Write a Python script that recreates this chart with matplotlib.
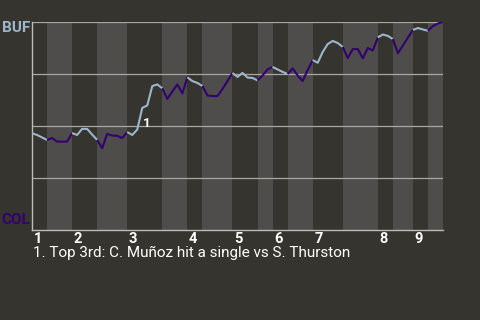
import numpy as np
import matplotlib.pyplot as plt

# win probability for BUF after each plate appearance (0 = COL wins, 1 = BUF wins)
wp = [0.465, 0.457, 0.445, 0.433, 0.442, 0.425, 0.425, 0.425, 0.466, 0.457,
      0.486, 0.486, 0.459, 0.433, 0.393, 0.462, 0.454, 0.453, 0.442, 0.471,
      0.457, 0.483, 0.587, 0.599, 0.692, 0.700, 0.681, 0.630, 0.666, 0.700,
      0.657, 0.734, 0.716, 0.707, 0.692, 0.647, 0.644, 0.644, 0.678, 0.716,
      0.755, 0.736, 0.755, 0.733, 0.731, 0.719, 0.743, 0.772, 0.784, 0.772,
      0.760, 0.750, 0.777, 0.743, 0.716, 0.769, 0.817, 0.804, 0.856, 0.894,
      0.909, 0.899, 0.880, 0.827, 0.870, 0.870, 0.825, 0.875, 0.863, 0.926,
      0.940, 0.933, 0.918, 0.850, 0.887, 0.925, 0.962, 0.971, 0.964, 0.958,
      0.981, 0.993, 1.000]

# plate appearance index where each half inning starts (last = end of game)
halves = [0, 3, 8, 13, 19, 26, 31, 34, 40, 45, 48, 51, 56, 62, 69, 72, 76, 79, 82]
innings = ['1', '2', '3', '4', '5', '6', '7', '8', '9']

note_x = 22.8
note_y = 0.51
note_txt = '1'
footnote = '1. Top 3rd: C. Muñoz hit a single vs S. Thurston'

bg = '#36342f'
band = '#4e4d4b'
buf_col = '#9cb7c9'
col_col = '#33006f'

plt.rcParams['font.family'] = ['Roboto', 'DejaVu Sans']

fig = plt.figure(figsize=(4.8, 3.2), dpi=100, facecolor=bg)
ax = fig.add_axes([32/480, 90/320, 411/480, 208/320])
ax.set_facecolor(bg)

x = np.arange(len(wp))
for k in range(len(halves) - 1):
    a, b = halves[k], halves[k + 1]
    if k % 2 == 1:
        ax.axvspan(a, b, color=band, lw=0, zorder=0)
    c = buf_col if k % 2 == 0 else col_col
    ax.plot(x[a:b + 1], wp[a:b + 1], color=c, lw=1.5, zorder=3,
            solid_capstyle='butt')

for yy in [0.25, 0.5, 0.75, 1.0]:
    ax.axhline(yy, color='#a8a7a4', lw=0.9, zorder=1)

ax.set_xlim(0, halves[-1])
ax.set_ylim(0, 1)
for s in ['top', 'right']:
    ax.spines[s].set_visible(False)
for s in ['left', 'bottom']:
    ax.spines[s].set_color('#bdbcba')
    ax.spines[s].set_linewidth(1.0)
ax.set_xticks([])
ax.set_yticks([])

for i, lab in enumerate(innings):
    ax.text(halves[2 * i] + 0.3, -0.008, lab, color='white', fontsize=10.5,
            fontweight='bold', ha='left', va='top')

ax.text(-0.004, 1.005, 'BUF', transform=ax.transAxes, color=buf_col,
        fontsize=11, fontweight='bold', ha='right', va='top')
ax.text(-0.004, 0.015, 'COL', transform=ax.transAxes, color=col_col,
        fontsize=11, fontweight='bold', ha='right', va='bottom')

ax.text(note_x, note_y, note_txt, color='white', fontsize=9.5,
        fontweight='bold', ha='center', va='center', zorder=4)

fig.text(33/480, 1 - 253/320, footnote, color='white', fontsize=11,
         ha='left', va='center')

fig.savefig('out.png', dpi=100, facecolor=bg)
